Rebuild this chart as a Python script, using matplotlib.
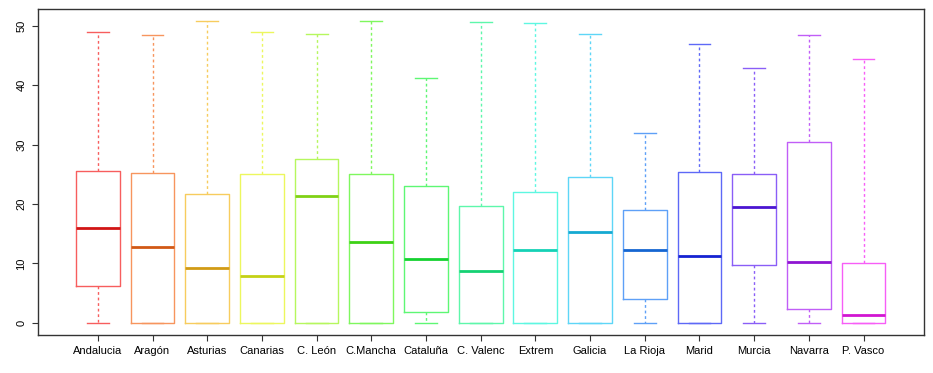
import numpy as np
import matplotlib
matplotlib.use("Agg")
import matplotlib.pyplot as plt
from matplotlib.colors import hsv_to_rgb

plt.rcParams["font.family"] = ["Liberation Sans", "DejaVu Sans"]

regions = [
    "Andalucia", "Aragón", "Asturias", "Canarias", "C. León",
    "C.Mancha", "Cataluña", "C. Valenc", "Extrem", "Galicia",
    "La Rioja", "Marid", "Murcia", "Navarra", "P. Vasco",
]
whis_lo = [0, 0, 0, 0, 0, 0, 0, 0, 0, 0, 0, 0, 0, 0, 0]
q1 = [6.2, 0, 0, 0, 0, 0, 1.8, 0, 0, 0, 4.0, 0, 9.8, 2.4, 0]
medians = [15.9, 12.7, 9.3, 7.9, 21.4, 13.6, 10.8, 8.75, 12.35, 15.3,
           12.35, 11.3, 19.5, 10.2, 1.3]
q3 = [25.6, 25.3, 21.7, 25.1, 27.6, 25.1, 23.0, 19.75, 22.05, 24.6,
      19.0, 25.4, 25.0, 30.4, 10.0]
whis_hi = [49.05, 48.5, 50.8, 48.9, 48.7, 50.8, 41.3, 50.6, 50.5, 48.6,
           32.0, 47.0, 42.9, 48.4, 44.5]

n = len(regions)
hues = np.linspace(0, 300 / 360, n)
box_cols = [hsv_to_rgb((h, 0.62, 0.97)) for h in hues]
med_cols = [hsv_to_rgb((h, 0.9, 0.82)) for h in hues]

stats = []
for i in range(n):
    stats.append({
        "label": regions[i],
        "whislo": whis_lo[i],
        "q1": q1[i],
        "med": medians[i],
        "q3": q3[i],
        "whishi": whis_hi[i],
        "fliers": [],
    })

fig = plt.figure(figsize=(9.33, 3.73), dpi=100)
ax = fig.add_axes([0.0404, 0.102, 0.9496, 0.874])

positions = np.arange(1, n + 1)
bp = ax.bxp(stats, positions=positions, widths=0.8, showfliers=False,
            patch_artist=False)

for i in range(n):
    bp["boxes"][i].set_color(box_cols[i])
    bp["boxes"][i].set_linewidth(1.0)
    bp["medians"][i].set_color(med_cols[i])
    bp["medians"][i].set_linewidth(2.0)
    for w in bp["whiskers"][2 * i:2 * i + 2]:
        w.set_color(box_cols[i])
        w.set_linewidth(1.0)
        w.set_linestyle((0, (2, 2)))
    for c in bp["caps"][2 * i:2 * i + 2]:
        c.set_color(box_cols[i])
        c.set_linewidth(1.0)
        c.set_xdata([positions[i] - 0.2, positions[i] + 0.2])

ax.set_xlim(-0.1, 16.1)
ax.set_ylim(-2.03, 52.85)
ax.set_yticks([0, 10, 20, 30, 40, 50])
ax.set_xticks(positions)
ax.set_xticklabels(regions, fontsize=8)
for lab in ax.get_yticklabels():
    lab.set_rotation(90)
    lab.set_verticalalignment("center")
    lab.set_fontsize(8)
ax.tick_params(direction="out", length=4, width=0.8, colors="#333333",
               labelcolor="black", pad=4)

for s in ax.spines.values():
    s.set_color("#333333")
    s.set_linewidth(1.0)

fig.savefig("out.png", dpi=100)
